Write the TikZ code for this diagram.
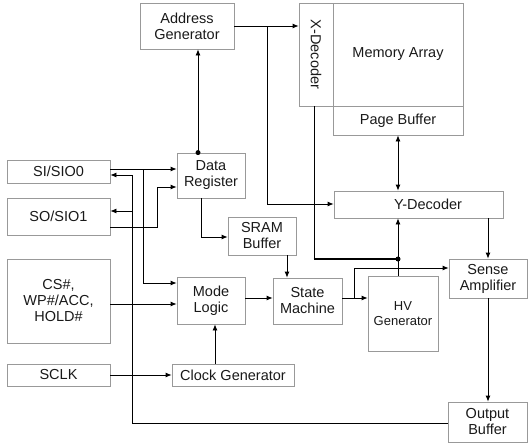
\documentclass[tikz,border=0pt]{standalone}
\usepackage{fontspec}
\setmainfont{Liberation Sans}
\usetikzlibrary{arrows.meta}
\begin{document}
\begin{tikzpicture}[x=1pt,y=-1pt,
  blk/.style={draw=black!40, line width=0.8pt, inner sep=0pt, align=center,
    font=\fontsize{14.5}{16}\selectfont, text=black!90},
  arr/.style={-{Latex[length=6pt,width=5pt]}, line width=0.8pt},
  darr/.style={{Latex[length=6pt,width=5pt]}-{Latex[length=6pt,width=5pt]}, line width=0.8pt},
  ln/.style={line width=0.8pt},
  dot/.style={circle, fill=black, inner sep=0pt, minimum size=5pt}]
\useasboundingbox (0,0) rectangle (531,447);
% boxes
\node[blk, minimum width=94, minimum height=46] (addr) at (187,26) {Address\\Generator};
\node[blk, minimum width=103, minimum height=23] (si) at (58.5,171.5) {SI/SIO0};
\node[blk, minimum width=103, minimum height=37] (so) at (58.5,216.5) {SO/SIO1};
\node[blk, minimum width=103, minimum height=84] (cs) at (58.5,301) {CS\#,\\WP\#/ACC,\\HOLD\#};
\node[blk, minimum width=103, minimum height=22] (sclk) at (58.5,375) {SCLK};
\node[blk, minimum width=68, minimum height=45] (dr) at (211,175.5) {Data\\Register};
\node[blk, minimum width=68, minimum height=38] (sram) at (262,236) {SRAM\\Buffer};
\node[blk, minimum width=68, minimum height=47] (mode) at (211,300.5) {Mode\\Logic};
\node[blk, minimum width=122, minimum height=22] (clk) at (233,375) {Clock Generator};
\node[blk, minimum width=69, minimum height=46] (sm) at (307.5,301) {State\\Machine};
\node[blk, minimum width=70, minimum height=75, font=\fontsize{13}{15}\selectfont] (hv) at (403,313.5) {HV\\Generator};
\node[blk, minimum width=34, minimum height=103] (xdec) at (316,54.5) {};
\node[rotate=-90, font=\fontsize{14.5}{16}\selectfont, text=black!90] (xdt) at (xdec.center) {X-Decoder};
\node[blk, minimum width=130, minimum height=103] (mem) at (398,54.5) {Memory Array};
\node[blk, minimum width=130, minimum height=29] (pb) at (398,120.5) {Page Buffer};
\node[blk, minimum width=169, minimum height=27] (ydec) at (418.5,204.5) {};
\node[font=\fontsize{14.5}{16}\selectfont, text=black!90] (ydt) at (428,204.5) {Y-Decoder};
\node[blk, minimum width=78, minimum height=39] (sa) at (488,278.5) {Sense\\Amplifier};
\node[blk, minimum width=79, minimum height=40] (ob) at (487.5,422) {Output\\Buffer};
% junction coordinates
\coordinate (jA) at (267,26);
\coordinate (jD) at (398,259);
\coordinate (jS) at (354,298);
\coordinate (jO) at (132,211);
% address generator to decoders
\draw[arr] (addr.east |- jA) -- (xdec.west |- jA);
\draw[arr] (jA) -- (267,204) -- (ydec.west |- 0,204);
% data register to address generator
\draw[arr] (dr.north -| 198,0) -- (addr.south -| 198,0);
\node[dot] (d1) at (dr.north -| 198,0) {};
% SI
\draw[arr] (si.east |- 0,169) -- (dr.west |- 0,169);
\draw[arr] (143,169) -- (143,283) -- (mode.west |- 0,283);
% output buffer feedback
\draw[arr] (ob.west |- 0,423) -- (132,423) -- (132,175) -- (si.east |- 0,175);
\draw[arr] (jO) -- (so.east |- jO);
% SO
\draw[arr] (so.east |- 0,227) -- (157,227) -- (157,187) -- (dr.west |- 0,187);
% data register to SRAM
\draw[arr] (dr.south -| 201,0) -- (201,237) -- (sram.west |- 0,237);
\draw[arr] (sram.south -| 287,0) -- (sm.north -| 287,0);
% inputs
\draw[arr] (cs.east |- 0,304) -- (mode.west |- 0,304);
\draw[arr] (sclk.east |- 0,375) -- (clk.west |- 0,375);
\draw[arr] (clk.north -| 215,0) -- (mode.south -| 215,0);
\draw[arr] (mode.east |- 0,298) -- (sm.west |- 0,298);
\draw[arr] (sm.east |- jS) -- (hv.west |- jS);
\draw[arr] (jS) -- (354,268) -- (sa.west |- 0,268);
% X decoder to junction
\draw[ln] (xdec.south -| 314,0) -- (314,259);
\draw[line width=2pt] (313.5,259) -- (jD);
\draw[arr] (hv.north -| jD) -- (ydec.south -| jD);
\node[dot] (d2) at (jD) {};
% page buffer / y decoder
\draw[darr] (pb.south -| 398,0) -- (ydec.north -| 398,0);
\draw[arr] (ydec.south -| 488,0) -- (sa.north -| 488,0);
\draw[arr] (sa.south) -- (ob.north -| sa.south);
\end{tikzpicture}
\end{document}
